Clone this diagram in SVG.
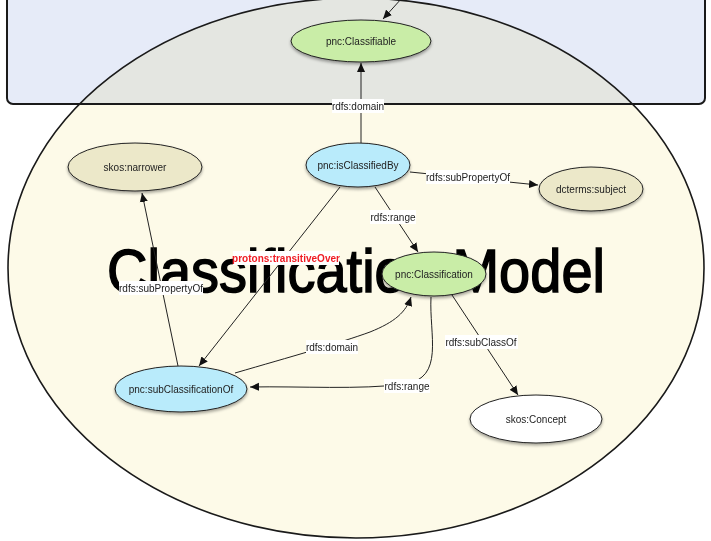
<svg xmlns="http://www.w3.org/2000/svg" width="711" height="541" viewBox="0 0 711 541">
<defs>
<marker id="arr" viewBox="0 0 10 10" refX="10" refY="5" markerWidth="9" markerHeight="9" markerUnits="userSpaceOnUse" orient="auto">
<path d="M0,0.5 L10,5 L0,9.5 Z" fill="#111"/>
</marker>
<filter id="sh" x="-20%" y="-20%" width="140%" height="150%">
<feDropShadow dx="0" dy="2" stdDeviation="1.5" flood-color="#000" flood-opacity="0.35"/>
</filter>
</defs>
<style>
.node ellipse{stroke:#222;stroke-width:1;filter:url(#sh)}
.nt{font-family:"Liberation Sans",Arial,sans-serif;font-size:10px;fill:#222;text-anchor:middle;dominant-baseline:central}
.lb{fill:#fff}
.lt{font-family:"Liberation Sans",Arial,sans-serif;font-size:10px;fill:#222;text-anchor:middle;dominant-baseline:central}
.red{fill:#f01c24;font-weight:bold}
.edge{fill:none;stroke:#222;stroke-width:1;marker-end:url(#arr)}
.green{fill:#c9eda7}
.blue{fill:#b9ebfb}
.khaki{fill:#ece8c9}
.white{fill:#fff}
</style>
<rect width="711" height="541" fill="#fff"/>
<g id="background">
<ellipse cx="356" cy="268" rx="348" ry="270" fill="#fdfae8"/>
<rect x="7" y="-20" width="698" height="124" rx="6" fill="#e6ebf8" style="mix-blend-mode:multiply"/>
<rect x="7" y="-20" width="698" height="124" rx="6" fill="none" stroke="#1a1a1a" stroke-width="2"/>
<ellipse cx="356" cy="268" rx="348" ry="270" fill="none" stroke="#1a1a1a" stroke-width="1.6"/>
<text x="107" y="292" font-family="'Liberation Sans',Arial,sans-serif" font-size="61" fill="#000" stroke="#000" stroke-width="1.5" textLength="498" lengthAdjust="spacingAndGlyphs">Classification Model</text>
</g>
<g id="connectors">
<path class="edge" d="M402,-2 L383,19"/>
<path class="edge" d="M361,143 L361,63"/>
<path class="edge" d="M410,172 L538,185"/>
<path class="edge" d="M375,187 L418,252"/>
<path class="edge" d="M340,187 L199,366"/>
<path class="edge" d="M178,366 L142,193"/>
<path class="edge" d="M235,373 C290,357 340,343 370,332 C395,322 406,312 411,297"/>
<path class="edge" d="M431,297 C429,335 445,378 405,384 C360,390 300,386 250,387"/>
<path class="edge" d="M452,295 L518,395"/>
<g id="labels">
<rect class="lb" x="332" y="99" width="52" height="14"/><text class="lt" x="358" y="106">rdfs:domain</text>
<rect class="lb" x="426" y="170" width="84" height="14"/><text class="lt" x="468" y="177">rdfs:subPropertyOf</text>
<rect class="lb" x="370" y="210" width="46" height="14"/><text class="lt" x="393" y="217">rdfs:range</text>
<rect class="lb" x="233" y="251" width="106" height="14"/><text class="lt red" x="286" y="258">protons:transitiveOver</text>
<rect class="lb" x="119" y="281" width="84" height="14"/><text class="lt" x="161" y="288">rdfs:subPropertyOf</text>
<rect class="lb" x="306" y="340" width="52" height="14"/><text class="lt" x="332" y="347">rdfs:domain</text>
<rect class="lb" x="384" y="379" width="46" height="14"/><text class="lt" x="407" y="386">rdfs:range</text>
<rect class="lb" x="445" y="335" width="73" height="14"/><text class="lt" x="481" y="342">rdfs:subClassOf</text>
</g>
</g>
<g id="n-classifiable" class="node"><ellipse class="green" cx="361" cy="41" rx="70" ry="21"/><text class="nt" x="361" y="41">pnc:Classifiable</text></g>
<g id="n-isClassifiedBy" class="node"><ellipse class="blue" cx="358" cy="165" rx="52" ry="22"/><text class="nt" x="358" y="165">pnc:isClassifiedBy</text></g>
<g id="n-narrower" class="node"><ellipse class="khaki" cx="135" cy="167" rx="67" ry="24"/><text class="nt" x="135" y="167">skos:narrower</text></g>
<g id="n-subject" class="node"><ellipse class="khaki" cx="591" cy="189" rx="52" ry="22"/><text class="nt" x="591" y="189">dcterms:subject</text></g>
<g id="n-classification" class="node"><ellipse class="green" cx="434" cy="274" rx="52" ry="22"/><text class="nt" x="434" y="274">pnc:Classification</text></g>
<g id="n-subClassificationOf" class="node"><ellipse class="blue" cx="181" cy="389" rx="66" ry="23"/><text class="nt" x="181" y="389">pnc:subClassificationOf</text></g>
<g id="n-concept" class="node"><ellipse class="white" cx="536" cy="419" rx="66" ry="24"/><text class="nt" x="536" y="419">skos:Concept</text></g>
</svg>
